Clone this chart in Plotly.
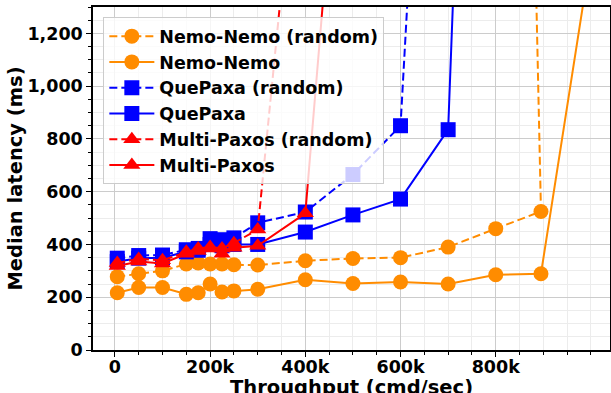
import plotly.graph_objects as go

# ---- data (throughput in cmd/sec, median latency in ms) ----
nemo_rand_x = [5000, 50000, 100000, 150000, 175000, 200000, 225000, 250000, 300000, 400000, 500000, 600000, 700000, 800000, 895000, 880000]
nemo_rand_y = [278, 289, 300, 326, 330, 326, 326, 323, 322, 338, 347, 350, 390, 460, 525, 1760]

nemo_x = [5000, 50000, 100000, 150000, 175000, 200000, 225000, 250000, 300000, 400000, 500000, 600000, 700000, 800000, 895000, 1000000]
nemo_y = [217, 237, 237, 211, 217, 250, 220, 224, 230, 266, 252, 258, 250, 285, 289, 1500]

qp_rand_x = [5000, 50000, 100000, 150000, 175000, 200000, 225000, 250000, 300000, 400000, 500000, 600000, 620000]
qp_rand_y = [348, 358, 360, 380, 385, 422, 418, 425, 482, 523, 665, 850, 1500]

qp_x = [5000, 50000, 100000, 150000, 175000, 200000, 225000, 250000, 300000, 400000, 500000, 600000, 700000, 715000]
qp_y = [335, 348, 350, 372, 378, 400, 395, 400, 400, 447, 512, 572, 835, 1550]

mp_rand_x = [5000, 50000, 100000, 150000, 175000, 200000, 225000, 250000, 300000, 350000]
mp_rand_y = [330, 345, 340, 372, 385, 390, 385, 405, 457, 1370]

mp_x = [5000, 50000, 100000, 150000, 175000, 200000, 225000, 250000, 300000, 400000, 450000]
mp_y = [318, 335, 328, 365, 375, 385, 365, 388, 395, 518, 1600]

x_tick_vals = [0, 200000, 400000, 600000, 800000]
x_tick_text = ["0", "200k", "400k", "600k", "800k"]

ORANGE = "#FF8C00"
BLUE = "#0000FF"
RED = "#FF0000"
DASH = "8px,4px"
FONT = "DejaVu Sans"

series = [
    ("Nemo-Nemo (random)", nemo_rand_x, nemo_rand_y, ORANGE, DASH, "circle", 15),
    ("Nemo-Nemo", nemo_x, nemo_y, ORANGE, "solid", "circle", 15),
    ("QuePaxa (random)", qp_rand_x, qp_rand_y, BLUE, DASH, "square", 15),
    ("QuePaxa", qp_x, qp_y, BLUE, "solid", "square", 15),
    ("Multi-Paxos (random)", mp_rand_x, mp_rand_y, RED, DASH, "triangle-up", 15),
    ("Multi-Paxos", mp_x, mp_y, RED, "solid", "triangle-up", 15),
]

fig = go.Figure()
for name, xs, ys, col, dash, sym, sz in series:
    fig.add_trace(go.Scatter(
        x=xs, y=ys, name=name, mode="lines+markers",
        line=dict(color=col, width=2, dash=dash),
        marker=dict(color=col, symbol=sym, size=sz, line=dict(width=0)),
    ))

axis_common = dict(
    showline=True, linecolor="black", linewidth=1.5, mirror=True,
    ticks="outside", ticklen=5, tickwidth=1.2, tickcolor="black",
    showgrid=True, gridcolor="#cccccc", gridwidth=1,
    zeroline=False, automargin=False,
    tickfont=dict(family=FONT, size=17.5, color="black", weight="bold"),
)

fig.update_xaxes(
    range=[-46000, 1040000],
    tickvals=x_tick_vals, ticktext=x_tick_text,
    ticklabelstandoff=-5,
    minor=dict(dtick=50000, tick0=0, ticks="outside", ticklen=3, tickcolor="black",
               showgrid=True, gridcolor="#ececec", gridwidth=1),
    **axis_common,
)
fig.update_yaxes(
    range=[0, 1300], dtick=200, tick0=0, tickformat=",d",
    minor=dict(dtick=50, tick0=0, ticks="outside", ticklen=3, tickcolor="black",
               showgrid=True, gridcolor="#ececec", gridwidth=1),
    title=dict(text="Median latency (ms)", standoff=0,
               font=dict(family=FONT, size=19.5, color="black", weight="bold")),
    **axis_common,
)

# x-axis title placed like the reference (partly below the page edge)
fig.add_annotation(
    text="Throughput (cmd/sec)", xref="paper", yref="paper",
    x=0.5, y=-0.07, xanchor="center", yanchor="top", showarrow=False,
    font=dict(family=FONT, size=19.5, color="black", weight="bold"),
)

fig.update_layout(
    width=611, height=393,
    margin=dict(l=93, r=1, t=7, b=43),
    plot_bgcolor="white", paper_bgcolor="white",
    legend=dict(
        x=0.02, y=0.97, xanchor="left", yanchor="top",
        bgcolor="rgba(255,255,255,0.8)", bordercolor="#cccccc", borderwidth=1,
        font=dict(family=FONT, size=17.5, color="black", weight="bold"),
        itemwidth=45,
    ),
    showlegend=True,
)

fig.write_html("out.html", config={"displayModeBar": False},
               post_script="document.body.style.margin='0px';document.body.style.padding='0px';")
